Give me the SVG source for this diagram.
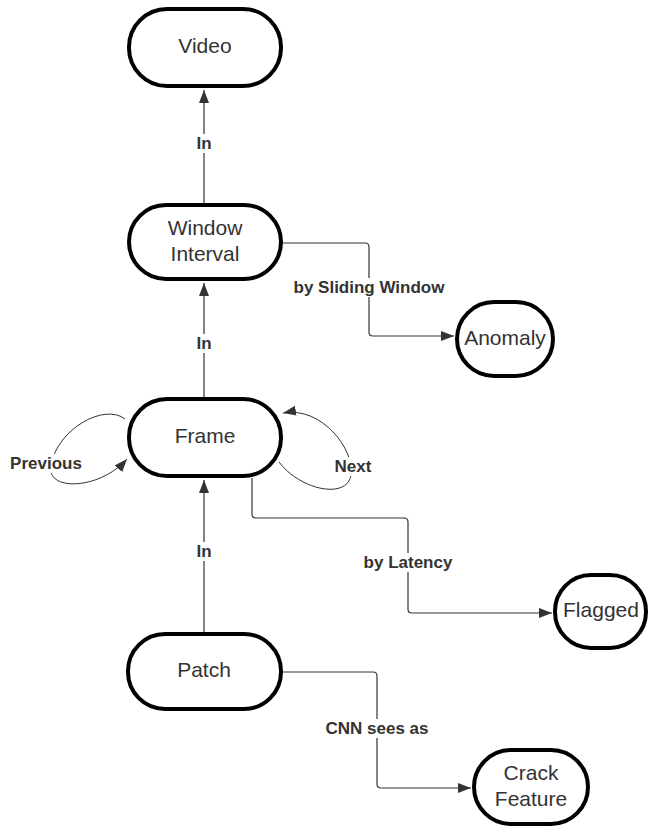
<svg xmlns="http://www.w3.org/2000/svg" width="648" height="827" viewBox="0 0 648 827">
<style>
.node{fill:#fff;stroke:#000;stroke-width:4}
.nt{font-family:"Liberation Sans",Arial,sans-serif;font-size:21px;fill:#333;text-anchor:middle}
.edge{fill:none;stroke:#333;stroke-width:1.2}
.loop{fill:none;stroke:#333;stroke-width:1}
.lbg{fill:#fff}
.lt{font-family:"Liberation Sans",Arial,sans-serif;font-size:17px;font-weight:bold;fill:#333;text-anchor:middle}
</style>
<defs>
<marker id="ah" markerUnits="userSpaceOnUse" markerWidth="14" markerHeight="11" refX="13" refY="5" orient="auto" viewBox="0 0 14 11">
<path d="M0,0 L13,5 L0,10 z" fill="#333"/>
</marker>
</defs>
<g id="connectors">
<path class="edge" d="M204,397 L204,283" marker-end="url(#ah)"/>
<path class="edge" d="M204,203 L204,90" marker-end="url(#ah)"/>
<path class="edge" d="M204,632 L204,480" marker-end="url(#ah)"/>
<path class="edge" d="M283,243 L365,243 Q369,243 369,247 L369,332 Q369,336 373,336 L454,336" marker-end="url(#ah)"/>
<path class="edge" d="M252,478 L252,514 Q252,518 256,518 L404,518 Q408,518 408,522 L408,609 Q408,613 412,613 L552,613" marker-end="url(#ah)"/>
<path class="edge" d="M282,672 L373,672 Q377,672 377,676 L377,784 Q377,788 381,788 L471,788" marker-end="url(#ah)"/>
<path class="loop" d="M125,419 C105,403 58,428 51,465 C45,492 100,490 127,459" marker-end="url(#ah)"/>
<path class="loop" d="M279,462 C300,490 347,500 351,475 C355,450 322,406 283,413" marker-end="url(#ah)"/>
<rect class="lbg" x="192" y="134" width="24" height="19"/>
<text class="lt" x="204" y="149">In</text>
<rect class="lbg" x="192" y="334" width="24" height="19"/>
<text class="lt" x="204" y="349">In</text>
<rect class="lbg" x="192" y="542" width="24" height="19"/>
<text class="lt" x="204" y="557">In</text>
<rect class="lbg" x="290" y="278" width="158" height="19"/>
<text class="lt" x="369" y="293">by Sliding Window</text>
<rect class="lbg" x="361" y="553" width="95" height="19"/>
<text class="lt" x="408" y="568">by Latency</text>
<rect class="lbg" x="322" y="719" width="110" height="19"/>
<text class="lt" x="377" y="734">CNN sees as</text>
<rect class="lbg" x="7" y="454" width="79" height="19"/>
<text class="lt" x="46" y="469">Previous</text>
<rect class="lbg" x="332" y="457" width="42" height="19"/>
<text class="lt" x="353" y="472">Next</text>
</g>
<g id="video">
<rect class="node" x="129" y="9" width="152" height="77" rx="38"/>
<text class="nt" x="205" y="53">Video</text>
</g>
<g id="window-interval">
<rect class="node" x="129" y="205" width="152" height="74" rx="37"/>
<text class="nt" x="205" y="235">Window</text>
<text class="nt" x="205" y="261">Interval</text>
</g>
<g id="frame">
<rect class="node" x="129" y="399" width="152" height="77" rx="38"/>
<text class="nt" x="205" y="443">Frame</text>
</g>
<g id="patch">
<rect class="node" x="128" y="634" width="153" height="75" rx="37"/>
<text class="nt" x="204" y="677">Patch</text>
</g>
<g id="anomaly">
<rect class="node" x="457" y="302" width="96" height="74" rx="37"/>
<text class="nt" x="505" y="345">Anomaly</text>
</g>
<g id="flagged">
<rect class="node" x="555" y="575" width="91" height="73" rx="36"/>
<text class="nt" x="601" y="617">Flagged</text>
</g>
<g id="crack-feature">
<rect class="node" x="474" y="750" width="114" height="74" rx="37"/>
<text class="nt" x="531" y="780">Crack</text>
<text class="nt" x="531" y="806">Feature</text>
</g>
</svg>
